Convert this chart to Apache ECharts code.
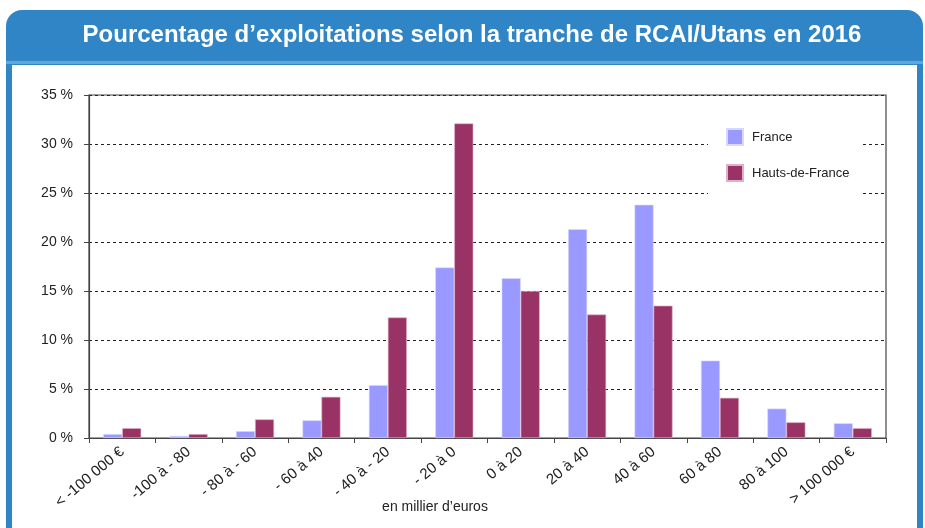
<!DOCTYPE html>
<html>
<head>
<meta charset="utf-8">
<script src="https://cdn.jsdelivr.net/npm/echarts@6/dist/echarts.min.js"></script>
<style>
  html, body { margin: 0; padding: 0; background: #fff; }
  #chart { width: 925px; height: 528px; }
</style>
</head>
<body>
<div id="chart"></div>
<script>
// tranches de RCAI/Utans (en millier d'euros)
const categories = ['< -100 000 €', '-100 à - 80', '- 80 à - 60', '- 60 à 40', '- 40 à - 20', '- 20 à 0',
  '0 à 20', '20 à 40', '40 à 60', '60 à 80', '80 à 100', '> 100 000 €'];
const france = [0.4, 0.2, 0.7, 1.8, 5.4, 17.4, 16.3, 21.3, 23.8, 7.9, 3.0, 1.5];
const hautsDeFrance = [1.0, 0.4, 1.9, 4.2, 12.3, 32.1, 15.0, 12.6, 13.5, 4.1, 1.6, 1.0];
const yTicks = [0, 5, 10, 15, 20, 25, 30, 35];

const titleText = 'Pourcentage d\u2019exploitations selon la tranche de RCAI/Utans en 2016';
const axisNameText = 'en millier d\u2019euros';

var myChart = echarts.init(document.getElementById('chart'), null, { renderer: 'canvas' });
var option;

option = {
  animation: false,
  textStyle: { fontFamily: 'Liberation Sans, Arial, sans-serif' },
  graphic: [
    // blue frame + header
    {
      type: 'rect', z: -10, silent: true,
      shape: { x: 6, y: 10, width: 917, height: 530, r: [16, 16, 0, 0] },
      style: { fill: '#2f85c6' }
    },
    {
      type: 'rect', z: -9, silent: true,
      shape: { x: 6, y: 61, width: 917, height: 3 },
      style: { fill: '#5ea6db' }
    },
    {
      type: 'rect', z: -8, silent: true,
      shape: { x: 12, y: 65, width: 905, height: 470 },
      style: { fill: '#ffffff' }
    },
    {
      type: 'text', z: 10, silent: true,
      x: 472, y: 35,
      style: {
        text: titleText, fill: '#ffffff',
        font: 'bold 24px Liberation Sans, Arial, sans-serif',
        align: 'center', verticalAlign: 'middle'
      }
    },
    {
      type: 'text', z: 10, silent: true,
      x: 435, y: 507,
      style: {
        text: axisNameText, fill: '#222',
        font: '14px Liberation Sans, Arial, sans-serif',
        align: 'center', verticalAlign: 'middle'
      }
    }
  ],
  grid: {
    left: 89, top: 95, right: 39, bottom: 90,
    show: true, borderColor: '#444', borderWidth: 1.2, backgroundColor: 'transparent'
  },
  legend: {
    orient: 'vertical',
    left: 708, top: 114,
    padding: [14, 12, 12, 18],
    backgroundColor: '#ffffff',
    itemWidth: 16, itemHeight: 16,
    itemGap: 18,
    data: ['France', 'Hauts-de-France'],
    textStyle: { fontSize: 13, color: '#222', padding: [0, 0, 6, 4] },
    icon: 'rect'
  },
  xAxis: {
    type: 'category',
    data: categories,
    axisLine: { lineStyle: { color: '#444', width: 1.2 } },
    axisTick: { show: true, length: 5, lineStyle: { color: '#444' } },
    axisLabel: { rotate: 40, fontSize: 15, color: '#222', margin: 12, interval: 0 },
    splitLine: { show: false }
  },
  yAxis: {
    type: 'value',
    min: 0, max: 35, interval: 5,
    axisLine: { show: true, lineStyle: { color: '#444', width: 1.2 } },
    axisTick: { show: true, length: 5, lineStyle: { color: '#444' } },
    axisLabel: {
      fontSize: 14, color: '#222', margin: 16,
      formatter: function (v) { return yTicks.indexOf(v) >= 0 ? v + ' %' : ''; }
    },
    splitLine: { show: true, lineStyle: { color: '#222', type: [3, 3], width: 1 } }
  },
  series: [
    {
      name: 'France',
      type: 'bar',
      data: france,
      barWidth: 19,
      barGap: '0%',
      itemStyle: { color: '#9999ff', borderColor: '#d8d8ff', borderWidth: 0.6 }
    },
    {
      name: 'Hauts-de-France',
      type: 'bar',
      data: hautsDeFrance,
      barWidth: 19,
      itemStyle: { color: '#993366', borderColor: '#e0b0c8', borderWidth: 0.6 }
    }
  ]
};

option && myChart.setOption(option);
</script>
</body>
</html>
